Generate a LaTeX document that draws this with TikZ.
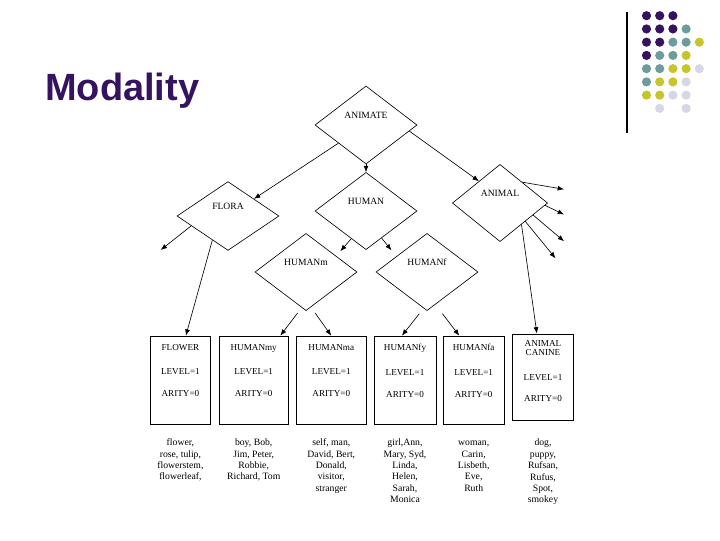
\documentclass[tikz,border=0pt]{standalone}
\usepackage{fontspec}
\setmainfont{Liberation Serif}
\newfontfamily\titlefont{Liberation Sans}
\usetikzlibrary{shapes.geometric,arrows.meta,positioning}
\definecolor{mpurple}{HTML}{35135F}
\definecolor{mteal}{HTML}{6E9C9C}
\definecolor{myellow}{HTML}{C6C62C}
\definecolor{mlav}{HTML}{D6D6E6}
\newcommand\dmdfont{\fontsize{6.8}{8}\selectfont}
\newcommand\bxfont{\fontsize{6.5}{8}\selectfont}
\newcommand\wlfont{\fontsize{6.9}{8.1}\selectfont}
\tikzset{
  dotP/.style={fill=mpurple}, dotT/.style={fill=mteal},
  dotY/.style={fill=myellow}, dotL/.style={fill=mlav},
  dotN/.style={fill=none}
}
\begin{document}
\begin{tikzpicture}[x=0.025cm, y=-0.025cm,
  dmd/.style={draw, diamond, inner sep=0pt, minimum width=2.55cm, minimum height=1.95cm, line width=0.45pt},
  dmdtext/.style={font=\dmdfont, yshift=7pt, inner sep=0pt},
  card/.style={draw, rectangle, line width=0.45pt, minimum width=1.52cm, minimum height=2.2cm, inner sep=0pt},
  cardtext/.style={font=\bxfont, align=center, inner sep=0pt},
  words/.style={font=\wlfont, align=center, inner sep=0pt},
  arr/.style={-{Latex[length=4.5pt,width=3.5pt]}, line width=0.45pt}]
  \useasboundingbox (0,0) rectangle (720,540);
  % title and corner dots
  \node[anchor=base west, inner sep=0pt, text=mpurple, font=\titlefont\bfseries\fontsize{27}{30}\selectfont] (title) at (45,100) {Modality};
  \draw[line width=0.8pt] (627,12) -- (627,133);
  \foreach \cols [count=\j from 0] in {{P,P,P},{P,P,P,T},{P,P,T,T,Y},{P,T,T,Y},{T,T,Y,Y,L},{T,Y,Y,L},{Y,Y,L,L},{N,L,N,L}}
    \foreach \c [count=\i from 0] in \cols
      \fill[dot\c] (646.5+13.2*\i, 15.7+13.24*\j) circle (4.6);
  % diamonds
  \node[dmd, label={[dmdtext]center:ANIMATE}] (animate) at (366,125) {};
  \node[dmd, minimum height=1.72cm, label={[dmdtext]center:FLORA}] (flora) at (228,216) {};
  \node[dmd, minimum height=1.93cm, label={[dmdtext]center:HUMAN}] (human) at (366,211) {};
  \node[dmd, minimum width=2.38cm, minimum height=1.93cm, label={[dmdtext]center:ANIMAL}] (animal) at (500,203) {};
  \node[dmd, minimum height=1.93cm, label={[dmdtext]center:HUMANm}] (humanm) at (306,272) {};
  \node[dmd, minimum height=1.93cm, label={[dmdtext]center:HUMANf}] (humanf) at (427,272) {};
  % boxes
  \node[card] (flower) at (180.4,380) {};
  \node[card, minimum width=1.73cm] (humanmy) at (253.7,380) {};
  \node[card, minimum width=1.73cm] (humanma) at (331.3,380) {};
  \node[card, minimum width=1.55cm] (humanfy) at (405,380) {};
  \node[card] (humanfa) at (473.7,380) {};
  \node[card, line width=0.7pt, minimum height=2.15cm] (canine) at (543,377) {};
  \node[cardtext, anchor=north, below=5.8pt of flower.north] (flowertxt) {FLOWER\\[9.5pt]LEVEL=1\\[7.6pt]ARITY=0};
  \node[cardtext, anchor=north, below=5.8pt of humanmy.north] (humanmytxt) {HUMANmy\\[9.5pt]LEVEL=1\\[7.6pt]ARITY=0};
  \node[cardtext, anchor=north, below=5.8pt of humanma.north] (humanmatxt) {HUMANma\\[9.5pt]LEVEL=1\\[7.6pt]ARITY=0};
  \node[cardtext, anchor=north, below=5.8pt of humanfy.north] (humanfytxt) {HUMANfy\\[9.5pt]LEVEL=1\\[7.6pt]ARITY=0};
  \node[cardtext, anchor=north, below=5.8pt of humanfa.north] (humanfatxt) {HUMANfa\\[9.5pt]LEVEL=1\\[7.6pt]ARITY=0};
  \node[cardtext, anchor=north, below=5pt of canine.north] (caninetxt) {ANIMAL\\[-2pt]CANINE\\[9.7pt]LEVEL=1\\[7.4pt]ARITY=0};
  % word lists
  \node[words, below=9.4pt of flower.south] (flowerwords) {\strut flower,\\rose, tulip,\\flowerstem,\\flowerleaf,};
  \node[words, below=9.4pt of humanmy.south] (humanmywords) {\strut boy, Bob,\\Jim, Peter,\\Robbie,\\Richard, Tom};
  \node[words, below=9.4pt of humanma.south] (humanmawords) {\strut self, man,\\David, Bert,\\Donald,\\visitor,\\stranger};
  \node[words, below=9.4pt of humanfy.south] (humanfywords) {\strut girl,Ann,\\Mary, Syd,\\Linda,\\Helen,\\Sarah,\\Monica};
  \node[words, below=9.4pt of humanfa.south] (humanfawords) {\strut woman,\\Carin,\\Lisbeth,\\Eve,\\Ruth};
  \node[words, below=12.2pt of canine.south] (caninewords) {\strut dog,\\puppy,\\Rufsan,\\Rufus,\\Spot,\\smokey};
  % arrows
  \coordinate (floraout) at (160.7,250);
  \coordinate (animalout1) at (564,189.3);
  \coordinate (animalout2) at (564,214.5);
  \coordinate (animalout3) at (564,241.2);
  \coordinate (animalout4) at (555.5,258.3);
  \draw[arr] (animate) -- (flora);
  \draw[arr] (animate.south) -- (human.north);
  \draw[arr] (animate.-8) -- (animal.134);
  \draw[arr] (flora.195) -- (floraout);
  \draw[arr] (flora.237) -- (flower.83);
  \draw[arr, shorten >=4.5pt] (human.242) -- (humanm.28);
  \draw[arr, shorten >=5.5pt] (human.-60) -- (humanf.153);
  \draw[arr] (animal.43) -- (animalout1);
  \draw[arr] (animal.-3) -- (animalout2);
  \draw[arr] (animal.-20) -- (animalout3);
  \draw[arr] (animal.-36) -- (animalout4);
  \draw[arr] (animal.-45) -- (canine.98);
  \draw[arr] ([xshift=-6pt,yshift=-1.5pt]humanm.south) -- (humanmy.59);
  \draw[arr] ([xshift=6.5pt,yshift=-1.5pt]humanm.south) -- (humanma.north);
  \draw[arr] ([xshift=-5.5pt,yshift=-2pt]humanf.south) -- (humanfy.94);
  \draw[arr] ([xshift=11pt,yshift=-2pt]humanf.south) -- (humanfa.108);
\end{tikzpicture}
\end{document}
